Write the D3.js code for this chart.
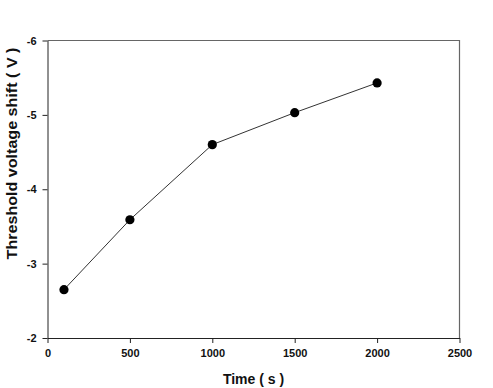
<!DOCTYPE html>
<html>
<head>
  <meta charset="utf-8">
  <script src="https://cdn.jsdelivr.net/npm/d3@7"></script>
  <style>
    body { margin: 0; background: #fff; }
    text { font-family: "Liberation Sans", Arial, sans-serif; font-weight: bold; fill: #111; }
  </style>
</head>
<body>
<script>
  // data
  var times = [100, 500, 1000, 1500, 2000];
  var shifts = [-2.65, -3.59, -4.60, -5.03, -5.43];
  var xTicks = [0, 500, 1000, 1500, 2000, 2500];
  var yTicks = [-6, -5, -4, -3, -2];

  var W = 493, H = 388;
  var plotLeft = 47.5, plotRight = 459.5, plotTop = 40.5, plotBottom = 338;

  var svg = d3.select("body").append("svg")
    .attr("width", W)
    .attr("height", H);

  var x = d3.scaleLinear().domain([0, 2500]).range([plotLeft, plotRight]);
  // inverted axis: -6 on top
  var y = d3.scaleLinear().domain([-2, -6]).range([plotBottom, plotTop]);

  // plain hyphen minus like the original, no thousands comma
  var plain = function (d) { return String(d); };

  // top and right frame lines
  svg.append("path")
    .attr("d", "M" + plotLeft + "," + plotTop + "H" + plotRight + "V" + plotBottom)
    .attr("fill", "none")
    .attr("stroke", "#666")
    .attr("stroke-width", 1.2);

  var xAxis = svg.append("g")
    .attr("transform", "translate(0," + plotBottom + ")")
    .call(d3.axisBottom(x).tickValues(xTicks).tickFormat(plain)
      .tickSize(5).tickPadding(6).tickSizeOuter(0));
  xAxis.select(".domain").attr("stroke", "#222");
  xAxis.selectAll("line").attr("stroke", "#222");
  xAxis.selectAll("text").style("font-size", "11px").attr("fill", "#111");

  var yAxis = svg.append("g")
    .attr("transform", "translate(" + plotLeft + ",0)")
    .call(d3.axisLeft(y).tickValues(yTicks).tickFormat(plain)
      .tickSize(5).tickPadding(6).tickSizeOuter(0));
  yAxis.select(".domain").attr("stroke", "#222");
  yAxis.selectAll("line").attr("stroke", "#222");
  yAxis.selectAll("text").style("font-size", "11px").attr("fill", "#111");

  var pts = times.map(function (t, i) { return [t, shifts[i]]; });

  svg.append("path")
    .datum(pts)
    .attr("fill", "none")
    .attr("stroke", "#333")
    .attr("stroke-width", 1)
    .attr("d", d3.line().x(function (d) { return x(d[0]); }).y(function (d) { return y(d[1]); }));

  svg.selectAll("circle.pt")
    .data(pts)
    .enter().append("circle")
    .attr("class", "pt")
    .attr("cx", function (d) { return x(d[0]); })
    .attr("cy", function (d) { return y(d[1]); })
    .attr("r", 4.6)
    .attr("fill", "#000");

  // axis titles
  svg.append("text")
    .attr("x", (plotLeft + plotRight) / 2)
    .attr("y", 384)
    .attr("text-anchor", "middle")
    .style("font-size", "14px")
    .text("Time ( s )");

  svg.append("text")
    .attr("transform", "translate(17,153.5) rotate(-90) scale(1.15,1)")
    .attr("text-anchor", "middle")
    .style("font-size", "14px")
    .text("Threshold voltage shift ( V )");
</script>
</body>
</html>
